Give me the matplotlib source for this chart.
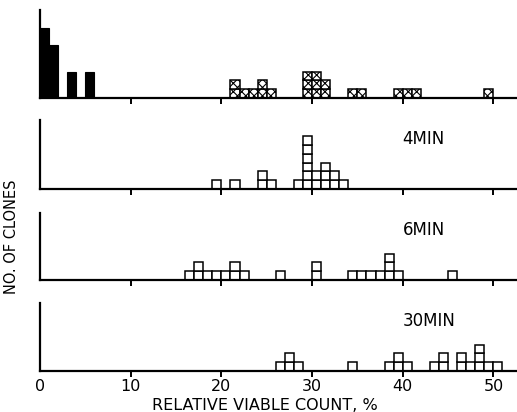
import matplotlib
matplotlib.use("Agg")
import matplotlib.pyplot as plt

# ---- data (bin = left edge in %, count = number of clones) ----
control_solid_bins = [0, 1, 3, 5]
control_solid_counts = [8, 6, 3, 3]
control_hatched_bins = [21, 22, 23, 24, 25, 29, 30, 31, 34, 35, 39, 40, 41, 49]
control_hatched_counts = [2, 1, 1, 2, 1, 3, 3, 2, 1, 1, 1, 1, 1, 1]

min4_bins = [19, 21, 24, 25, 28, 29, 30, 31, 32, 33]
min4_counts = [1, 1, 2, 1, 1, 6, 2, 3, 2, 1]

min6_bins = [16, 17, 18, 19, 20, 21, 22, 26, 30, 34, 35, 36, 37, 38, 39, 45]
min6_counts = [1, 2, 1, 1, 1, 2, 1, 1, 2, 1, 1, 1, 1, 3, 1, 1]

min30_bins = [26, 27, 28, 34, 38, 39, 40, 43, 44, 46, 47, 48, 49, 50]
min30_counts = [1, 2, 1, 1, 1, 2, 1, 1, 2, 2, 1, 3, 1, 1]

panel_labels = ["", "4MIN", "6MIN", "30MIN"]
x_ticks = [0, 10, 20, 30, 40, 50]
x_label = "RELATIVE VIABLE COUNT, %"
y_label = "NO. OF CLONES"

W, H = 517, 412
fig = plt.figure(figsize=(W / 100, H / 100), dpi=100)
fig.patch.set_facecolor("white")

left_px = 40
x_max = 52.6
# (baseline_px, top_px, ymax)
panels = [(98, 10, 10.0), (189, 120, 7.84), (280, 213, 7.6), (371, 303, 7.7)]
axes = []
for base, top, ymax in panels:
    ax = fig.add_axes([left_px / W, (H - base) / H, (W - left_px) / W, (base - top) / H])
    ax.set_xlim(0, x_max)
    ax.set_ylim(0, ymax)
    for s in ("top", "right"):
        ax.spines[s].set_visible(False)
    for s in ("left", "bottom"):
        ax.spines[s].set_linewidth(1.6)
        ax.spines[s].set_color("black")
    ax.set_yticks([])
    ax.set_xticks(x_ticks[1:])
    ax.tick_params(axis="x", direction="out", length=4, width=1.4, labelbottom=False)
    ax.set_facecolor("none")
    axes.append(ax)


def stack_squares(ax, bins, counts, **kw):
    top = max(counts)
    for k in range(top):
        sel = [b for b, c in zip(bins, counts) if c > k]
        ax.bar(sel, 1, bottom=k, width=1, align="edge", **kw)


# panel 1
axes[0].bar(control_solid_bins, control_solid_counts, width=1, align="edge",
            color="black", edgecolor="black", linewidth=0.8)
plt.rcParams["hatch.linewidth"] = 0.8
stack_squares(axes[0], control_hatched_bins, control_hatched_counts,
              facecolor="white", edgecolor="black", linewidth=1.1, hatch="xxxx")

stack_squares(axes[1], min4_bins, min4_counts, facecolor="white", edgecolor="black", linewidth=1.1)
stack_squares(axes[2], min6_bins, min6_counts, facecolor="white", edgecolor="black", linewidth=1.1)
stack_squares(axes[3], min30_bins, min30_counts, facecolor="white", edgecolor="black", linewidth=1.1)

for ax, lab in zip(axes, panel_labels):
    if lab:
        ax.text(40.0, 5.7, lab, ha="left", va="center", fontsize=12, color="black")

axes[3].set_xticks(x_ticks)
axes[3].tick_params(axis="x", labelbottom=True, labelsize=11.5, pad=1.5)
axes[3].get_xticklines()[0].set_visible(False)

fig.text(265 / W, (H - 405) / H, x_label, ha="center", va="center", fontsize=11.5)
fig.text(12 / W, (H - 237) / H, y_label, ha="center", va="center", rotation=90, fontsize=10.5)

fig.savefig("out.png", dpi=100, facecolor="white")
